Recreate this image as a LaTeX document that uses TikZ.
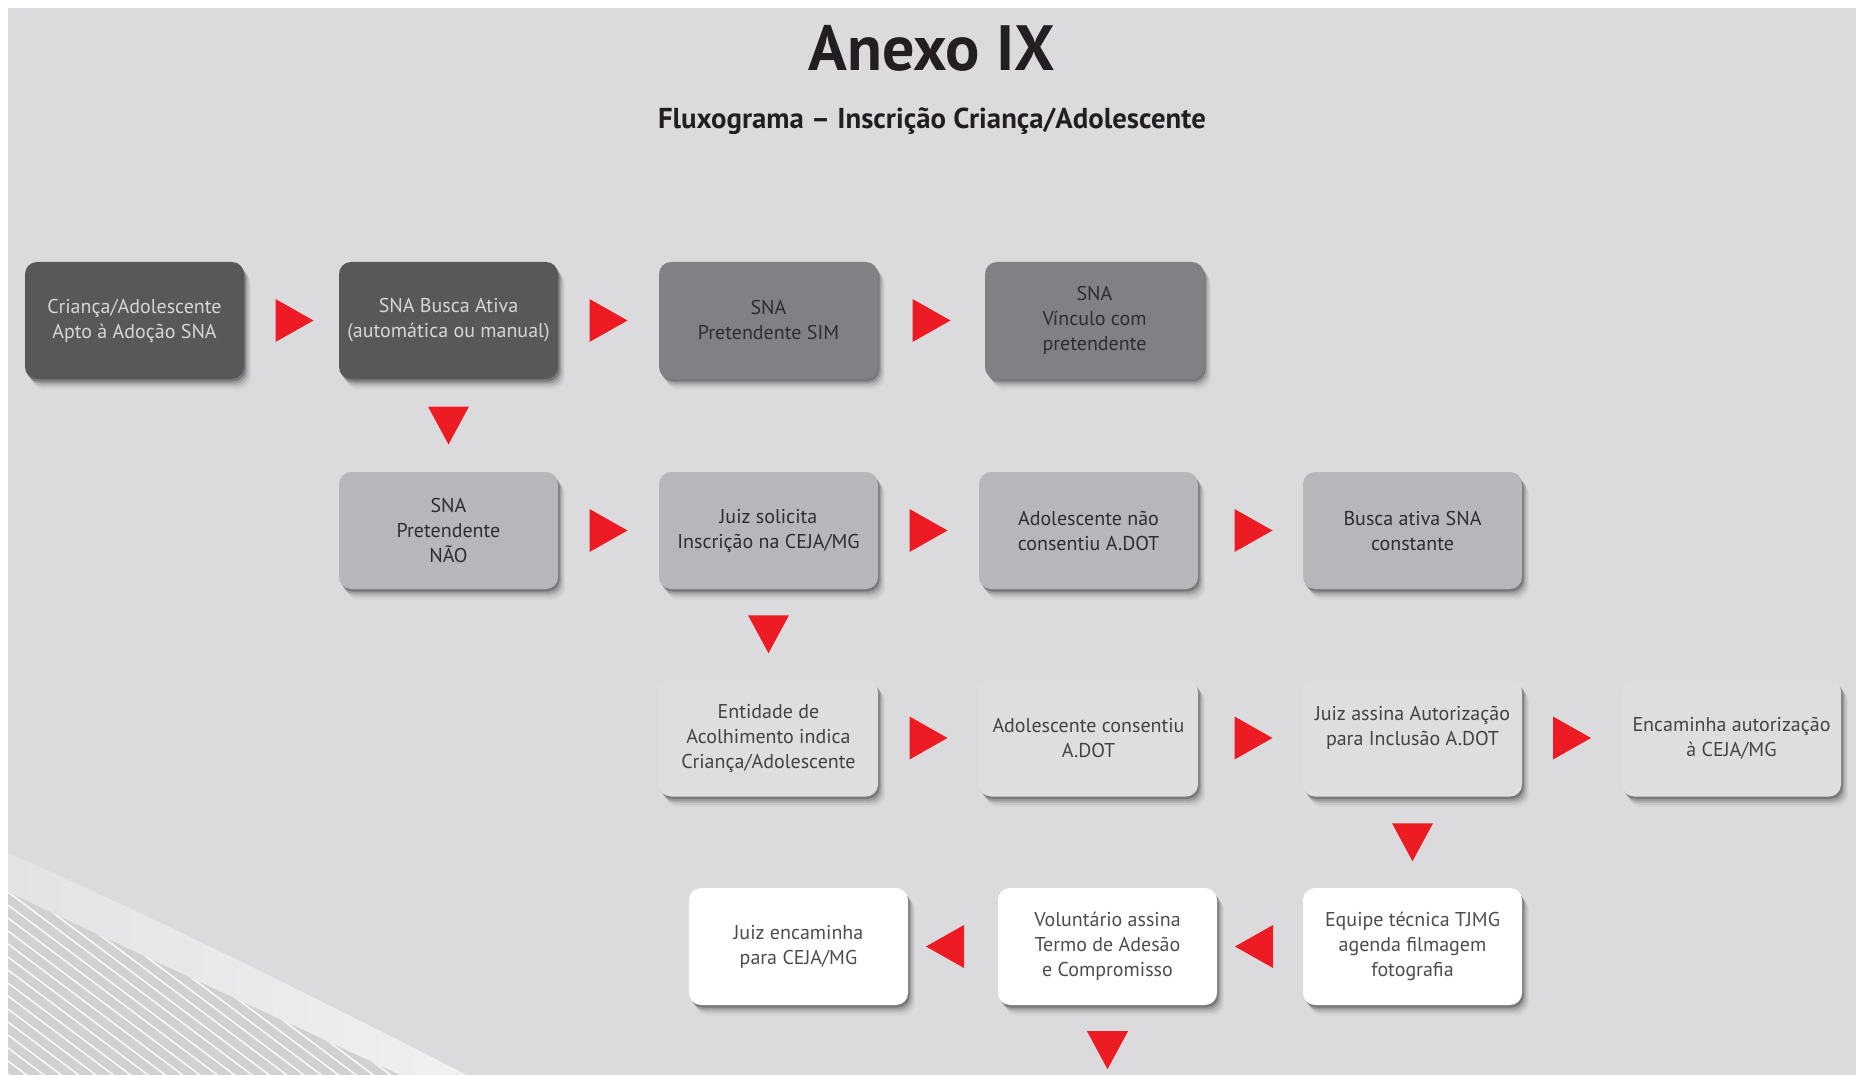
\documentclass[tikz,border=0pt]{standalone}
\usepackage{fontspec}
\setmainfont{PT Sans}
\usetikzlibrary{calc,shadows}
\definecolor{bg}{HTML}{DBDBDD}
\definecolor{titlec}{HTML}{231F20}
\definecolor{arrowred}{HTML}{ED1C24}
\definecolor{darkbox}{HTML}{58585A}
\definecolor{midbox}{HTML}{808184}
\definecolor{lightbox}{HTML}{B6B7BA}
\definecolor{paleboxc}{HTML}{DDDEE0}
\definecolor{darktext}{HTML}{2E2E30}
\definecolor{lighttext}{HTML}{D6D6D8}
\definecolor{stripebg}{HTML}{D1D1D3}
\definecolor{bandA}{HTML}{E3E3E5}
\definecolor{bandB}{HTML}{F0F0F1}
\tikzset{
  box/.style={rounded corners=12pt, minimum width=219pt, minimum height=117pt,
    align=center, inner sep=0pt, font=\fontsize{20}{25}\selectfont,
    drop shadow={shadow xshift=1.5pt, shadow yshift=-2.5pt, opacity=0.22, fill=black},
    drop shadow={shadow xshift=3pt, shadow yshift=-4.5pt, opacity=0.14, fill=black},
    drop shadow={shadow xshift=4.5pt, shadow yshift=-6.5pt, opacity=0.09, fill=black},
    drop shadow={shadow xshift=6pt, shadow yshift=-8.5pt, opacity=0.05, fill=black},
    drop shadow={shadow xshift=7pt, shadow yshift=-10.5pt, opacity=0.03, fill=black}},
  darkb/.style={box, fill=darkbox, text=lighttext},
  midb/.style={box, fill=midbox, text=darktext},
  lightb/.style={box, fill=lightbox, text=darktext},
  paleb/.style={box, fill=paleboxc, text=darktext!90!white},
  whiteb/.style={box, fill=white, text=darktext!85!white},
  rtri/.pic={\fill[arrowred] (-19,-21.5) -- (19,0) -- (-19,21.5) -- cycle;},
  ltri/.pic={\fill[arrowred] (19,-21.5) -- (-19,0) -- (19,21.5) -- cycle;},
  dtri/.pic={\fill[arrowred] (-20.5,-19) -- (20.5,-19) -- (0,19) -- cycle;}
}
\begin{document}
\begin{tikzpicture}[x=1pt,y=-1pt]
\useasboundingbox (0,0) rectangle (1856,1075);
\fill[white] (0,0) rectangle (1856,1075);
\fill[bg] (8,8) rectangle (1856,1075);
% bottom-left decoration
\shade[left color=bandA, right color=bandB]
  (8,853) .. controls (150,915) and (300,990) .. (467,1075)
  -- (400,1075) .. controls (260,1010) and (130,950) .. (8,892) -- cycle;
\begin{scope}
  \clip (8,892) .. controls (130,950) and (260,1010) .. (400,1075) -- (8,1075) -- cycle;
  \fill[stripebg] (0,850) rectangle (480,1075);
  \foreach \i in {0,...,24} {
    \draw[white, opacity=0.85, line width=1.6pt] (8,{775+13*\i}) -- ++(520,390);
  }
\end{scope}
% titles
\node[anchor=base, text=titlec, font=\bfseries\fontsize{64}{70}\selectfont] (title) at (932,71) {Anexo IX};
\node[anchor=base, text=titlec, font=\bfseries\fontsize{28.8}{32}\selectfont] (subtitle) at (932,129) {Fluxograma – Inscrição Criança/Adolescente};
% row 1
\node[darkb] (A) at (134.5,320.5) {Criança/Adolescente\\Apto à Adoção SNA};
\node[darkb] (B) at (448.5,320.5) {SNA Busca Ativa\\(automática ou manual)};
\node[midb] (C) at (768.5,320.5) {SNA\\Pretendente SIM};
\node[midb] (D) at (1094.5,320.5) {SNA\\Vínculo com\\pretendente};
% row 2
\node[lightb] (E) at (448.5,530.5) {SNA\\Pretendente\\NÃO};
\node[lightb] (F) at (768.5,530.5) {Juiz solicita\\Inscrição na CEJA/MG};
\node[lightb] (G) at (1088.5,530.5) {Adolescente não\\consentiu A.DOT};
\node[lightb] (H) at (1412.5,530.5) {Busca ativa SNA\\constante};
% row 3
\node[paleb] (I) at (768.5,738) {Entidade de\\Acolhimento indica\\Criança/Adolescente};
\node[paleb] (J) at (1088.5,738) {Adolescente consentiu\\A.DOT};
\node[paleb] (K) at (1412.5,738) {Juiz assina Autorização\\para Inclusão A.DOT\\\mbox{}};
\node[paleb] (L) at (1731.5,738) {Encaminha autorização\\à CEJA/MG};
% row 4
\node[whiteb] (M) at (798.5,946.5) {Juiz encaminha\\para CEJA/MG};
\node[whiteb] (N) at (1107.5,946.5) {Voluntário assina\\Termo de Adesão\\e Compromisso};
\node[whiteb] (O) at (1412.5,946.5) {Equipe técnica TJMG\\agenda filmagem\\fotografia};
% arrowheads
\pic at ($(A.east)!0.5!(B.west)+(3,0)$) {rtri};
\pic at ($(B.east)!0.5!(C.west)$) {rtri};
\pic at ($(C.east)!0.5!(D.west)$) {rtri};
\pic at ($(B.south)!0.5!(E.north)$) {dtri};
\pic at ($(E.east)!0.5!(F.west)$) {rtri};
\pic at ($(F.east)!0.5!(G.west)$) {rtri};
\pic at ($(G.east)!0.5!(H.west)+(3,0)$) {rtri};
\pic at ($(F.south)!0.5!(I.north)$) {dtri};
\pic at ($(I.east)!0.5!(J.west)$) {rtri};
\pic at ($(J.east)!0.5!(K.west)+(3,0)$) {rtri};
\pic at ($(K.east)!0.5!(L.west)$) {rtri};
\pic at ($(K.south)!0.5!(O.north)$) {dtri};
\pic at ($(O.west)!0.5!(N.east)+(-6,0)$) {ltri};
\pic at ($(N.west)!0.5!(M.east)+(-8,0)$) {ltri};
\coordinate (Nout) at ($(N.south)+(0,45)$);
\pic at (Nout) {dtri};
\end{tikzpicture}
\end{document}
